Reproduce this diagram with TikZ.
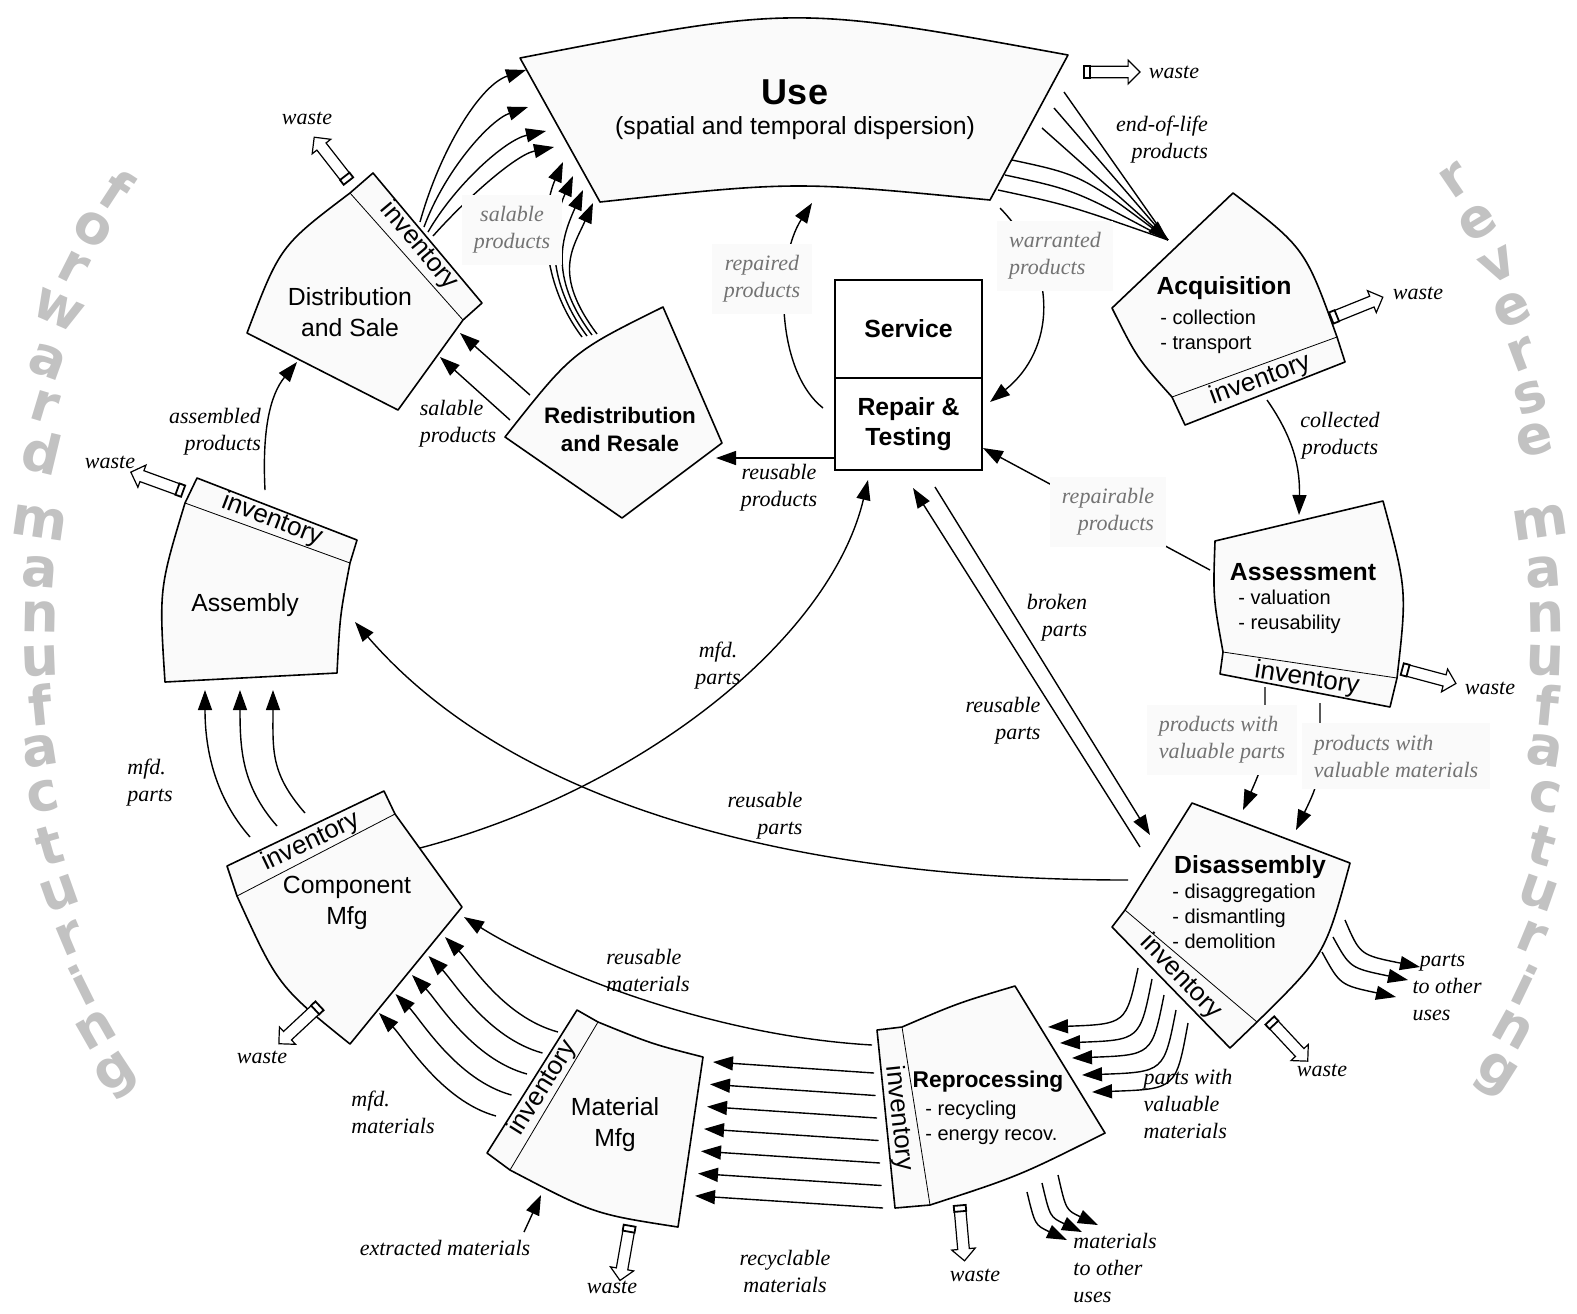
\documentclass[tikz,border=0pt]{standalone}
\usepackage{fontspec}
\setmainfont{Liberation Serif}
\setsansfont{Liberation Sans}
\newfontfamily\markfont{DejaVu Sans}
\usetikzlibrary{arrows.meta,shapes.arrows}

% hollow waste arrow with its little cap at the tail
\newcommand{\wastebin}[3]{%
  \node[waste, rotate=#3] (#1) at (#2) {};
  \node[wastecap, rotate=#3] (#1-cap) at (#1.tail) {};}

\begin{document}
\begin{tikzpicture}[x=0.5pt, y=-0.5pt, >={Triangle[length=10pt,width=7pt]},
  stage/.style={draw, line width=0.8pt, fill=black!2, line join=round},
  flow/.style={line width=0.7pt},
  lbl/.style={font=\fontsize{11}{13.5}\selectfont\itshape, align=center, inner sep=1pt},
  soft/.style={lbl, text=black!55, fill=black!2, inner sep=6pt},
  stagehead/.style={font=\sffamily\bfseries\fontsize{12.4}{15}\selectfont},
  bullets/.style={font=\sffamily\fontsize{10}{12.5}\selectfont, align=left, anchor=base west, inner sep=0pt},
  stagetext/.style={font=\sffamily\fontsize{12.4}{15.5}\selectfont, align=center},
  inv/.style={font=\sffamily\fontsize{13}{14}\selectfont, inner sep=0pt},
  servbox/.style={draw, line width=0.9pt, fill=white, minimum width=73.5pt, stagehead, align=center},
  waste/.style={single arrow, draw, fill=white, line width=0.6pt, inner sep=2.6pt,
    minimum height=26pt, single arrow head extend=3pt},
  wastecap/.style={draw, fill=white, line width=0.9pt, minimum width=3pt, minimum height=6pt, inner sep=0pt},
  wm/.style={font=\markfont\bfseries\fontsize{27}{27}\selectfont, text=black!24, inner sep=0pt}]
\useasboundingbox (0,0) rectangle (1577,1313);

% watermark letters
\foreach \ch/\px/\py [count=\i] in {f/117/190, o/93/229, r/73/268, w/58/310, a/48/362, r/45/407, d/42/452,
    m/40/523, a/40/572, n/40/617, u/40/661, f/40/705, a/40/751, c/43/797, t/50/846, u/60/893, r/70/938,
    i/82/985, n/96/1030, g/118/1076}
  \node[wm, rotate={atan2(632-\py,\px-792)-180}] (fw\i) at (\px,\py) {\ch};
\foreach \ch/\px/\py [count=\i] in {r/1455/180, e/1478/222, v/1498/265, e/1512/310, r/1522/355, s/1530/398,
    e/1535/440, m/1540/522, a/1543/572, n/1545/617, u/1545/661, f/1547/705, a/1545/751, c/1545/797,
    t/1542/846, u/1538/893, r/1532/938, i/1525/985, n/1513/1030, g/1495/1076}
  \node[wm, rotate={atan2(632-\py,\px-792)}] (rv\i) at (\px,\py) {\ch};

% stages
\draw[stage] (520,58) .. controls (794,5) .. (1068,55) -- (990,200) .. controls (795,181) .. (600,202) -- cycle;
\draw[stage] (1233,193) -- (1112,308) .. controls (1137,358) .. (1172,397) -- (1185,425) -- (1345,362)
  -- (1337,337) .. controls (1305,248) .. (1233,193) -- cycle;
\draw (1172,397) -- (1337,337);
\draw[stage] (1215,541) -- (1383,501) .. controls (1407,590) .. (1397,678) -- (1390,707) -- (1220,674)
  -- (1223,652) .. controls (1213,597) .. (1215,541) -- cycle;
\draw (1223,652) -- (1397,678);
\draw[stage] (1192,803) -- (1350,863) .. controls (1325,955) .. (1257,1022) -- (1230,1048) -- (1112,927)
  -- (1125,910) -- cycle;
\draw (1125,910) -- (1257,1022);
\draw[stage] (877,1030) -- (902,1027) .. controls (958,1003) .. (1015,986) -- (1105,1133)
  .. controls (1019,1176) .. (930,1205) -- (895,1208) -- cycle;
\draw (902,1027) -- (930,1205);
\draw[stage] (577,1010) -- (598,1022) .. controls (652,1044) .. (703,1057) -- (678,1227)
  .. controls (594,1214) .. (510,1170) -- (487,1153) -- cycle;
\draw (598,1022) -- (510,1170);
\draw[stage] (227,866) -- (384,791) -- (395,814) -- (462,907) -- (350,1044) .. controls (278,986) .. (237,896) -- cycle;
\draw (237,896) -- (395,814);
\draw[stage] (197,478) -- (357,540) -- (350,563) .. controls (340,615) .. (337,673) -- (165,682)
  .. controls (159,589) .. (185,503) -- cycle;
\draw (185,503) -- (350,563);
\draw[stage] (350,193) -- (373,173) -- (482,303) -- (463,320) -- (398,410) -- (247,333)
  .. controls (280,246) .. (350,193) -- cycle;
\draw (350,193) -- (463,320);
\draw[stage] (505,437) .. controls (572,352) .. (663,307) -- (722,443) -- (622,518) -- cycle;

\node[servbox, minimum height=49pt] (service) at (908.5,329) {Service};
\node[servbox, minimum height=46pt] (repair) at (908.5,424) {Repair \&\\Testing};

% forward flows
\draw[flow,->] (420,222) .. controls (440,150) and (480,85) .. (526,70);
\draw[flow,->] (424,227) .. controls (445,170) and (490,120) .. (528,107);
\draw[flow,->] (428,232) .. controls (455,185) and (505,140) .. (546,131);
\draw[flow,->] (433,236) .. controls (465,200) and (515,155) .. (554,147);
\foreach \sx/\sy/\ex/\ey in {582/337/563/162, 587/336/573/176, 592/335/583/190, 597/334/593/203}
  \draw[flow,->] (\sx,\sy) .. controls (\sx-45,\sy-60) and (\ex-20,\ey+45) .. (\ex,\ey);
\draw[flow,->] (530,395) -- (460,333);
\draw[flow,->] (510,420) -- (440,357);
\draw[flow,->] (265,490) .. controls (262,430) and (270,395) .. (297,362);
\foreach \sx/\sy/\ex in {250/837/205, 277/826/240, 305/813/273}
  \draw[flow,->] (\sx,\sy) .. controls (\sx-35,\sy-40) and (\ex,750) .. (\ex,690);
\draw[flow,->] (420,848) .. controls (640,790) and (830,640) .. (868,480);
\draw[flow,->] (872,1045) .. controls (700,1035) and (540,965) .. (464,917);
\foreach \k in {0,...,4}
  \draw[flow,->] (558-15.5*\k,1032+21*\k) .. controls (503-15.5*\k,1017+21*\k) and (470-16.5*\k,962+19*\k)
    .. (445-16.5*\k,937+19*\k);
\draw[flow,->] (524,1232) -- (541,1195);

% reverse flows
\foreach \sx/\sy in {1064/92, 1054/108}
  \draw[flow] (\sx,\sy) -- (1168,240);
\foreach \sx/\sy in {1012/160, 1005/175, 998/190}
  \draw[flow] (\sx,\sy) .. controls (\sx+70,\sy+15) .. (1168,240);
\draw[flow,->] (1042,128) -- (1168,240);
\draw[flow,->] (1267,400) .. controls (1295,440) and (1300,470) .. (1299,515);
\draw[flow,->] (1265,687) .. controls (1265,760) .. (1243,810);
\draw[flow,->] (1320,703) .. controls (1320,780) .. (1296,830);
\draw[flow,->] (1210,570) -- (repair.east |- 0,448);
\draw[flow,->] (823,408) .. controls (775,370) and (775,260) .. (812,203);
\draw[flow,->] (1000,208) .. controls (1060,270) and (1055,350) .. (990,402);
\draw[flow,->] (repair.west |- 0,458) -- (716,458);
\draw[flow,->] (935,487) -- (1150,835);
\draw[flow,->] (1140,847) -- (913,488);
\draw[flow,->] (1128,880) .. controls (760,880) and (500,790) .. (355,622);
\foreach \sx/\sy/\cx/\ex/\ey in {1345/920/1360/1420/967, 1333/937/1350/1408/980, 1322/952/1340/1396/997}
  \draw[flow,->] (\sx,\sy) .. controls (\cx,\ey-12) .. (\ex,\ey);
\foreach \sx/\sy/\ex/\ey in {1138/968/1048/1027, 1152/979/1060/1043, 1164/995/1072/1058, 1176/1010/1082/1075, 1188/1023/1092/1092}
  \draw[flow,->] (\sx,\sy) .. controls (\sx-12,\ey-3) .. (\ex,\ey);
\foreach \sx/\sy/\ex/\ey in {1027/1192/1067/1240, 1042/1183/1082/1232, 1058/1175/1098/1225}
  \draw[flow,->] (\sx,\sy) .. controls (\sx+8,\ey-15) .. (\ex,\ey);
\foreach \i in {0,...,6}
  \draw[flow,->] (874+1.5*\i,1073+22.5*\i) -- (713-3*\i,1062+22.3*\i);

% waste
\wastebin{w-use}{1111,72}{0}
\wastebin{w-acq}{1356,308}{22}
\wastebin{w-ass}{1428,676}{-15}
\wastebin{w-dis}{1288,1040}{-47}
\wastebin{w-rep}{962,1232}{-85}
\wastebin{w-mat}{625,1252}{-100}
\wastebin{w-com}{300,1024}{-137}
\wastebin{w-asm}{158,482}{160}
\wastebin{w-dst}{332,160}{128}
\foreach \px/\py [count=\i] in {1174/72, 1418/293, 1490/688, 1322/1070, 975/1275, 612/1287, 262/1057, 110/462, 307/118}
  \node[lbl] (wl\i) at (\px,\py) {waste};

% labels
\node[lbl, align=right] (eol) at (1162,140) {end-of-life\\products};
\node[lbl] (coll) at (1340,436) {collected\\products};
\node[lbl, align=right] (broken) at (1057,618) {broken\\parts};
\node[lbl, align=right] (reu1) at (1003,721) {reusable\\parts};
\node[lbl, align=right] (reu2) at (765,816) {reusable\\parts};
\node[lbl] (mfd1) at (718,666) {mfd.\\parts};
\node[lbl] (reuprod) at (779,488) {reusable\\products};
\node[lbl, align=left] (sal1) at (458,424) {salable\\products};
\node[lbl, align=right] (asmd) at (215,432) {assembled\\products};
\node[lbl, align=left] (mfd2) at (150,783) {mfd.\\parts};
\node[lbl, align=left] (reumat) at (648,970) {reusable\\materials};
\node[lbl, align=left] (mfdmat) at (393,1112) {mfd.\\materials};
\node[lbl] (extr) at (445,1248) {extracted materials};
\node[lbl] (recy) at (785,1271) {recyclable\\materials};
\node[lbl, align=left] (matuse) at (1115,1268) {materials\\to other\\uses};
\node[lbl, align=left] (pwvm) at (1188,1104) {parts with\\valuable\\materials};
\node[lbl, align=left] (partuse) at (1447,987) {\,\,parts\\to other\\uses};

\node[soft] (sal2) at (512,230) {salable\\products};
\node[soft] (repd) at (762,279) {repaired\\products};
\node[soft, align=left] (warr) at (1055,256) {warranted\\products};
\node[soft, align=right] (repb) at (1108,512) {repairable\\products};
\node[soft, align=left] (pwvp) at (1222,740) {products with\\valuable parts};
\node[soft, align=left] (pwvm2) at (1396,756) {products with\\valuable materials};

% stage texts
\node[font=\sffamily\bfseries\fontsize{18}{20}\selectfont] (use) at (795,92) {Use};
\node[font=\sffamily\fontsize{12.4}{14}\selectfont] (use-sub) at (795,128) {(spatial and temporal dispersion)};
\node[stagetext] (dist) at (350,312) {Distribution\\and Sale};
\node[stagehead, align=center, font=\sffamily\bfseries\fontsize{11.2}{14}\selectfont] (redist) at (620,429) {Redistribution\\and Resale};
\node[stagetext] (asm) at (245,605) {Assembly};
\node[stagetext] (com) at (347,903) {Component\\Mfg};
\node[stagetext] (mat) at (615,1125) {Material\\Mfg};
\node[stagehead] (acq) at (1224,288) {Acquisition};
\node[bullets] (acq-l) at (1160,349) {- collection\\- transport};
\node[stagehead] (ass) at (1303,572) {Assessment};
\node[bullets] (ass-l) at (1238,629) {- valuation\\- reusability};
\node[stagehead] (dis) at (1250,867) {Disassembly};
\node[bullets] (dis-l) at (1172,948) {- disaggregation\\- dismantling\\- demolition};
\node[stagehead, font=\sffamily\bfseries\fontsize{11.4}{14}\selectfont] (rep) at (988,1082) {Reprocessing};
\node[bullets] (rep-l) at (925,1140) {- recycling\\- energy recov.};

\node[inv, rotate=-50] (dst-inv) at (419,246) {inventory};
\node[inv, rotate=-21] (asm-inv) at (272,520) {inventory};
\node[inv, rotate=25.5] (com-inv) at (311,842) {inventory};
\node[inv, rotate=58] (mat-inv) at (543,1088) {inventory};
\node[inv, rotate=-84] (rep-inv) at (899,1118) {inventory};
\node[inv, rotate=-46] (dis-inv) at (1181,977) {inventory};
\node[inv, rotate=-9] (ass-inv) at (1307,679) {inventory};
\node[inv, rotate=20] (acq-inv) at (1260,380) {inventory};
\end{tikzpicture}
\end{document}
